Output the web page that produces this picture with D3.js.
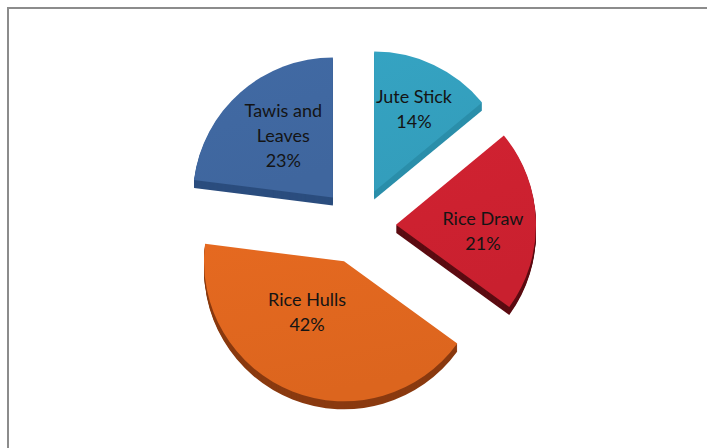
<!DOCTYPE html>
<html>
<head>
<meta charset="utf-8">
<script src="https://cdn.jsdelivr.net/npm/d3@7"></script>
<style>
  html, body { margin: 0; padding: 0; background: #ffffff; }
  svg { display: block; }
</style>
</head>
<body>
<script>
// Fuel share by biomass type
const categories = ["Jute Stick", "Rice Draw", "Rice Hulls", "Tawis and Leaves"];
const shares = [14, 21, 42, 23];
const topColors = ["#34a0be", "#cd2130", "#e0671f", "#4068a1"];
const sideColors = ["#2a8eaa", "#5c0c12", "#8a3a10", "#2b4d7e"];

const W = 707, H = 448;
const cx = 358, cy = 226;      // pie centre before explosion
const R = 140;                 // radius of the top face
const explode = 38;            // distance each slice is pulled out
const depth = 8;               // visible thickness of the slab
const labelFrac = 0.6;
// small label tweaks (dx, dy) per slice
const labelNudge = [[4, -6], [3, 9], [-6, -27], [6, 1]];

const svg = d3.select("body").append("svg")
  .attr("width", W).attr("height", H);

// plot-area frame
svg.append("rect")
  .attr("x", 8).attr("y", 8)
  .attr("width", W + 20).attr("height", H + 20)
  .attr("fill", "none")
  .attr("stroke", "#8c8c8c")
  .attr("stroke-width", 2);

const data = categories.map((c, i) => ({ name: c, v: shares[i], i }));
const total = d3.sum(shares);
const pie = d3.pie().sort(null).value(d => d.v).startAngle(0).endAngle(2 * Math.PI);
const arcs = pie(data);
const arcGen = d3.arc().innerRadius(0).outerRadius(R);

const defs = svg.append("defs");
arcs.forEach((a, i) => {
  const base = d3.color(topColors[i]);
  const g = defs.append("linearGradient")
    .attr("id", "top" + i)
    .attr("x1", 0).attr("y1", 0).attr("x2", 0.3).attr("y2", 1);
  g.append("stop").attr("offset", "0%").attr("stop-color", base.brighter(0.06));
  g.append("stop").attr("offset", "100%").attr("stop-color", base.darker(0.05));
});

const slices = arcs.map(a => {
  const m = (a.startAngle + a.endAngle) / 2;
  return {
    a,
    m,
    vx: cx + explode * Math.sin(m),
    vy: cy - explode * Math.cos(m)
  };
});

// side walls: the top face swept downward
const sides = svg.append("g");
slices.forEach((s, i) => {
  for (let k = depth; k >= 1; k--) {
    sides.append("path")
      .attr("d", arcGen(s.a))
      .attr("transform", `translate(${s.vx},${s.vy + k})`)
      .attr("fill", sideColors[i]);
  }
});

// top faces
const tops = svg.append("g");
slices.forEach((s, i) => {
  tops.append("path")
    .attr("d", arcGen(s.a))
    .attr("transform", `translate(${s.vx},${s.vy})`)
    .attr("fill", `url(#top${i})`);
});

// labels
const fontFamily = "Lato, 'Open Sans', sans-serif";
const fontSize = 18;
const lineH = 25;
const measurer = svg.append("text")
  .attr("font-family", fontFamily).attr("font-size", fontSize)
  .attr("visibility", "hidden");
function textWidth(t) { measurer.text(t); return measurer.node().getComputedTextLength(); }
function wrap(name, maxW) {
  const words = name.split(" ");
  const lines = [];
  let cur = "";
  words.forEach(w => {
    const trial = cur ? cur + " " + w : w;
    if (cur && textWidth(trial) > maxW) { lines.push(cur); cur = w; }
    else cur = trial;
  });
  if (cur) lines.push(cur);
  return lines;
}

const pct = d3.format(".0%");
const labels = svg.append("g");
slices.forEach((s, i) => {
  const lines = wrap(s.a.data.name, 88).concat(pct(s.a.data.v / total));
  const lx = s.vx + labelFrac * R * Math.sin(s.m) + labelNudge[i][0];
  const ly = s.vy - labelFrac * R * Math.cos(s.m) + labelNudge[i][1];
  const t = labels.append("text")
    .attr("font-family", fontFamily)
    .attr("font-size", fontSize)
    .attr("fill", "#141414")
    .attr("text-anchor", "middle");
  const top = ly - (lines.length - 1) * lineH / 2;
  lines.forEach((ln, j) => {
    t.append("tspan")
      .attr("x", lx)
      .attr("y", top + j * lineH)
      .attr("dy", "0.35em")
      .text(ln);
  });
});
measurer.remove();
</script>
</body>
</html>
